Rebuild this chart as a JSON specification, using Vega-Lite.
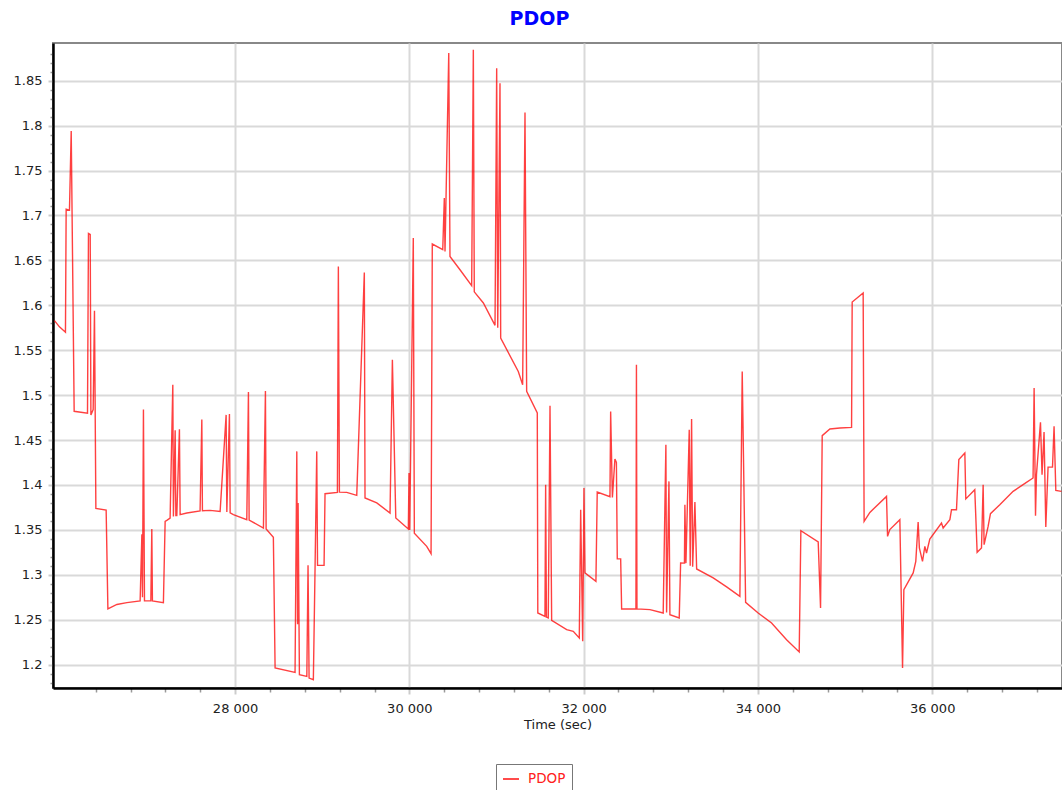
{
  "$schema": "https://vega.github.io/schema/vega-lite/v6.json",
  "autosize": "none",
  "width": 1009,
  "height": 645,
  "padding": {"left": 53, "top": 43, "right": 0, "bottom": 102},
  "background": "white",
  "title": {
    "text": "PDOP",
    "font": "DejaVu Sans",
    "fontSize": 19,
    "fontWeight": "bold",
    "color": "#0000ff",
    "anchor": "middle",
    "dx": -18,
    "offset": 14
  },
  "config": {
    "view": {"stroke": "#888888", "strokeWidth": 2},
    "axis": {"labelFont": "DejaVu Sans", "titleFont": "DejaVu Sans", "labelColor": "#222222", "titleColor": "#222222"}
  },
  "data": {"values": [
    {"t": 25927, "v": 1.583}, {"t": 25984, "v": 1.576}, {"t": 26053, "v": 1.570}, {"t": 26061, "v": 1.707},
    {"t": 26099, "v": 1.706}, {"t": 26119, "v": 1.794}, {"t": 26153, "v": 1.482}, {"t": 26306, "v": 1.480},
    {"t": 26317, "v": 1.680}, {"t": 26337, "v": 1.679}, {"t": 26345, "v": 1.478}, {"t": 26371, "v": 1.484},
    {"t": 26386, "v": 1.594}, {"t": 26402, "v": 1.374}, {"t": 26520, "v": 1.372}, {"t": 26540, "v": 1.262},
    {"t": 26643, "v": 1.267}, {"t": 26758, "v": 1.269}, {"t": 26910, "v": 1.271}, {"t": 26930, "v": 1.345},
    {"t": 26937, "v": 1.275}, {"t": 26948, "v": 1.484}, {"t": 26960, "v": 1.271}, {"t": 27033, "v": 1.271},
    {"t": 27044, "v": 1.351}, {"t": 27051, "v": 1.271}, {"t": 27177, "v": 1.269}, {"t": 27197, "v": 1.3595},
    {"t": 27216, "v": 1.3606}, {"t": 27254, "v": 1.3632}, {"t": 27285, "v": 1.5116}, {"t": 27292, "v": 1.365},
    {"t": 27312, "v": 1.461}, {"t": 27320, "v": 1.366}, {"t": 27331, "v": 1.366}, {"t": 27361, "v": 1.462},
    {"t": 27369, "v": 1.367}, {"t": 27446, "v": 1.3688}, {"t": 27598, "v": 1.3711}, {"t": 27618, "v": 1.473},
    {"t": 27625, "v": 1.3713}, {"t": 27713, "v": 1.3717}, {"t": 27828, "v": 1.3706}, {"t": 27897, "v": 1.478},
    {"t": 27905, "v": 1.370}, {"t": 27935, "v": 1.479}, {"t": 27943, "v": 1.369}, {"t": 27980, "v": 1.3669},
    {"t": 28134, "v": 1.3614}, {"t": 28153, "v": 1.5035}, {"t": 28161, "v": 1.361}, {"t": 28325, "v": 1.3521},
    {"t": 28348, "v": 1.5046}, {"t": 28356, "v": 1.351}, {"t": 28439, "v": 1.3417}, {"t": 28459, "v": 1.1963},
    {"t": 28688, "v": 1.1914}, {"t": 28708, "v": 1.4374}, {"t": 28717, "v": 1.245}, {"t": 28723, "v": 1.380},
    {"t": 28738, "v": 1.1887}, {"t": 28823, "v": 1.187}, {"t": 28837, "v": 1.3105}, {"t": 28849, "v": 1.185},
    {"t": 28898, "v": 1.1833}, {"t": 28918, "v": 1.3105}, {"t": 28937, "v": 1.4374}, {"t": 28946, "v": 1.3105},
    {"t": 29021, "v": 1.3105}, {"t": 29032, "v": 1.3903}, {"t": 29174, "v": 1.3918}, {"t": 29185, "v": 1.6433},
    {"t": 29197, "v": 1.392}, {"t": 29281, "v": 1.3918}, {"t": 29396, "v": 1.3885}, {"t": 29483, "v": 1.6366},
    {"t": 29491, "v": 1.3855}, {"t": 29626, "v": 1.380}, {"t": 29778, "v": 1.3688}, {"t": 29805, "v": 1.5395},
    {"t": 29844, "v": 1.3633}, {"t": 29988, "v": 1.351}, {"t": 29996, "v": 1.4134}, {"t": 30004, "v": 1.350},
    {"t": 30045, "v": 1.6749}, {"t": 30057, "v": 1.3464}, {"t": 30199, "v": 1.3317}, {"t": 30249, "v": 1.3235},
    {"t": 30263, "v": 1.6682}, {"t": 30383, "v": 1.6619}, {"t": 30401, "v": 1.7194}, {"t": 30409, "v": 1.660},
    {"t": 30452, "v": 1.8808}, {"t": 30466, "v": 1.6544}, {"t": 30581, "v": 1.6396}, {"t": 30715, "v": 1.6218},
    {"t": 30734, "v": 1.8845}, {"t": 30745, "v": 1.615}, {"t": 30849, "v": 1.6026}, {"t": 30983, "v": 1.5777},
    {"t": 31002, "v": 1.864}, {"t": 31014, "v": 1.575}, {"t": 31040, "v": 1.8471}, {"t": 31048, "v": 1.5636},
    {"t": 31250, "v": 1.5264}, {"t": 31300, "v": 1.5116}, {"t": 31327, "v": 1.8147}, {"t": 31346, "v": 1.5042},
    {"t": 31468, "v": 1.4801}, {"t": 31474, "v": 1.2575}, {"t": 31556, "v": 1.2538}, {"t": 31564, "v": 1.4003},
    {"t": 31573, "v": 1.253}, {"t": 31594, "v": 1.252}, {"t": 31614, "v": 1.4883}, {"t": 31633, "v": 1.2493},
    {"t": 31805, "v": 1.239}, {"t": 31881, "v": 1.2371}, {"t": 31950, "v": 1.2297}, {"t": 31966, "v": 1.3725},
    {"t": 31989, "v": 1.226}, {"t": 32004, "v": 1.3966}, {"t": 32015, "v": 1.3021}, {"t": 32141, "v": 1.2927},
    {"t": 32156, "v": 1.3922}, {"t": 32302, "v": 1.387}, {"t": 32310, "v": 1.4819}, {"t": 32330, "v": 1.386},
    {"t": 32359, "v": 1.4289}, {"t": 32376, "v": 1.425}, {"t": 32386, "v": 1.3177}, {"t": 32425, "v": 1.3177},
    {"t": 32436, "v": 1.262}, {"t": 32600, "v": 1.262}, {"t": 32606, "v": 1.5339}, {"t": 32612, "v": 1.262},
    {"t": 32761, "v": 1.2612}, {"t": 32913, "v": 1.2575}, {"t": 32944, "v": 1.4449}, {"t": 32952, "v": 1.258},
    {"t": 32979, "v": 1.404}, {"t": 32990, "v": 1.2556}, {"t": 33097, "v": 1.2519}, {"t": 33113, "v": 1.3132},
    {"t": 33157, "v": 1.313}, {"t": 33162, "v": 1.378}, {"t": 33174, "v": 1.313}, {"t": 33212, "v": 1.4615},
    {"t": 33223, "v": 1.310}, {"t": 33239, "v": 1.4734}, {"t": 33251, "v": 1.309}, {"t": 33277, "v": 1.3809},
    {"t": 33297, "v": 1.3065}, {"t": 33487, "v": 1.2965}, {"t": 33641, "v": 1.2865}, {"t": 33793, "v": 1.276},
    {"t": 33820, "v": 1.5264}, {"t": 33859, "v": 1.2693}, {"t": 34003, "v": 1.2575}, {"t": 34157, "v": 1.2464},
    {"t": 34329, "v": 1.2278}, {"t": 34474, "v": 1.2141}, {"t": 34493, "v": 1.3491}, {"t": 34692, "v": 1.3366},
    {"t": 34719, "v": 1.2631}, {"t": 34738, "v": 1.4549}, {"t": 34826, "v": 1.4623}, {"t": 34941, "v": 1.4634},
    {"t": 35075, "v": 1.4641}, {"t": 35082, "v": 1.6036}, {"t": 35208, "v": 1.6137}, {"t": 35219, "v": 1.3595},
    {"t": 35285, "v": 1.3695}, {"t": 35476, "v": 1.3873}, {"t": 35488, "v": 1.3428}, {"t": 35514, "v": 1.3503},
    {"t": 35629, "v": 1.3614}, {"t": 35660, "v": 1.1963}, {"t": 35675, "v": 1.2835}, {"t": 35782, "v": 1.3021},
    {"t": 35812, "v": 1.315}, {"t": 35839, "v": 1.3588}, {"t": 35853, "v": 1.33}, {"t": 35889, "v": 1.315},
    {"t": 35916, "v": 1.3317}, {"t": 35935, "v": 1.3243}, {"t": 35973, "v": 1.3399}, {"t": 36107, "v": 1.3577},
    {"t": 36126, "v": 1.3521}, {"t": 36203, "v": 1.3614}, {"t": 36222, "v": 1.3725}, {"t": 36279, "v": 1.3725},
    {"t": 36306, "v": 1.4282}, {"t": 36375, "v": 1.4356}, {"t": 36386, "v": 1.3845}, {"t": 36489, "v": 1.3948},
    {"t": 36516, "v": 1.325}, {"t": 36566, "v": 1.3299}, {"t": 36585, "v": 1.4003}, {"t": 36596, "v": 1.3336},
    {"t": 36642, "v": 1.3539}, {"t": 36669, "v": 1.3681}, {"t": 36776, "v": 1.378}, {"t": 36929, "v": 1.3929},
    {"t": 37082, "v": 1.4029}, {"t": 37158, "v": 1.4078}, {"t": 37170, "v": 1.5079}, {"t": 37186, "v": 1.3658},
    {"t": 37197, "v": 1.4115}, {"t": 37243, "v": 1.4697}, {"t": 37261, "v": 1.4115}, {"t": 37284, "v": 1.459},
    {"t": 37304, "v": 1.3532}, {"t": 37330, "v": 1.4199}, {"t": 37381, "v": 1.4199}, {"t": 37399, "v": 1.4653},
    {"t": 37419, "v": 1.394}, {"t": 37484, "v": 1.3929}
  ]},
  "layer": [
    {
      "mark": {"type": "line", "opacity": 0},
      "encoding": {
        "x": {"field": "t", "type": "quantitative", "scale": {"domain": [25910, 37490], "nice": false, "zero": false},
          "axis": {"orient": "bottom", "values": [26400, 26800, 27200, 27600, 28400, 28800, 29200, 29600, 30400, 30800, 31200, 31600, 32400, 32800, 33200, 33600, 34400, 34800, 35200, 35600, 36400, 36800, 37200],
            "labels": false, "grid": false, "domain": false, "ticks": true, "tickSize": 4, "tickColor": "#999999", "tickWidth": 1.5, "title": null}},
        "y": {"field": "v", "type": "quantitative", "scale": {"domain": [1.174, 1.892], "nice": false, "zero": false},
          "axis": {"orient": "left", "values": [1.18,1.19,1.21,1.22,1.23,1.24,1.26,1.27,1.28,1.29,1.31,1.32,1.33,1.34,1.36,1.37,1.38,1.39,1.41,1.42,1.43,1.44,1.46,1.47,1.48,1.49,1.51,1.52,1.53,1.54,1.56,1.57,1.58,1.59,1.61,1.62,1.63,1.64,1.66,1.67,1.68,1.69,1.71,1.72,1.73,1.74,1.76,1.77,1.78,1.79,1.81,1.82,1.83,1.84,1.86,1.87,1.88],
            "labels": false, "grid": false, "domain": false, "ticks": true, "tickSize": 3, "tickColor": "#999999", "tickWidth": 1.5, "title": null}}
      }
    },
    {
      "mark": {"type": "line", "strokeWidth": 1.4, "opacity": 0.75, "interpolate": "linear"},
      "encoding": {
        "x": {"field": "t", "type": "quantitative", "scale": {"domain": [25910, 37490], "nice": false, "zero": false},
          "axis": {"orient": "bottom", "values": [28000, 30000, 32000, 34000, 36000],
            "labelExpr": "replace(format(datum.value, ','), ',', ' ')",
            "labelFontSize": 13, "labelPadding": 8, "tickSize": 6, "tickColor": "#cccccc", "tickWidth": 2,
            "grid": true, "gridColor": "#d9d9d9", "gridWidth": 2,
            "domainColor": "#000000", "domainWidth": 2.5,
            "title": "Time (sec)", "titleFontSize": 13, "titleFontWeight": "normal", "titlePadding": 3}},
        "y": {"field": "v", "type": "quantitative", "scale": {"domain": [1.174, 1.892], "nice": false, "zero": false},
          "axis": {"orient": "left", "values": [1.2,1.25,1.3,1.35,1.4,1.45,1.5,1.55,1.6,1.65,1.7,1.75,1.8,1.85],
            "labelExpr": "format(datum.value, '.2~f')",
            "labelFontSize": 13, "labelPadding": 6, "tickSize": 5, "tickColor": "#cccccc", "tickWidth": 2,
            "grid": true, "gridColor": "#d9d9d9", "gridWidth": 2,
            "domainColor": "#000000", "domainWidth": 2.5, "title": null}},
        "color": {"datum": "PDOP", "type": "nominal", "scale": {"range": ["#ff0000"]},
          "legend": {"title": null, "orient": "none", "legendX": 443, "legendY": 721,
            "strokeColor": "#777777", "fillColor": "white", "padding": 6,
            "symbolType": "stroke", "symbolSize": 256, "symbolStrokeWidth": 2, "symbolOpacity": 0.7,
            "labelColor": "#ff2020", "labelFont": "DejaVu Sans", "labelFontSize": 13.5, "labelOffset": 8}}
      }
    }
  ],
  "resolve": {"axis": {"x": "independent", "y": "independent"}}
}
